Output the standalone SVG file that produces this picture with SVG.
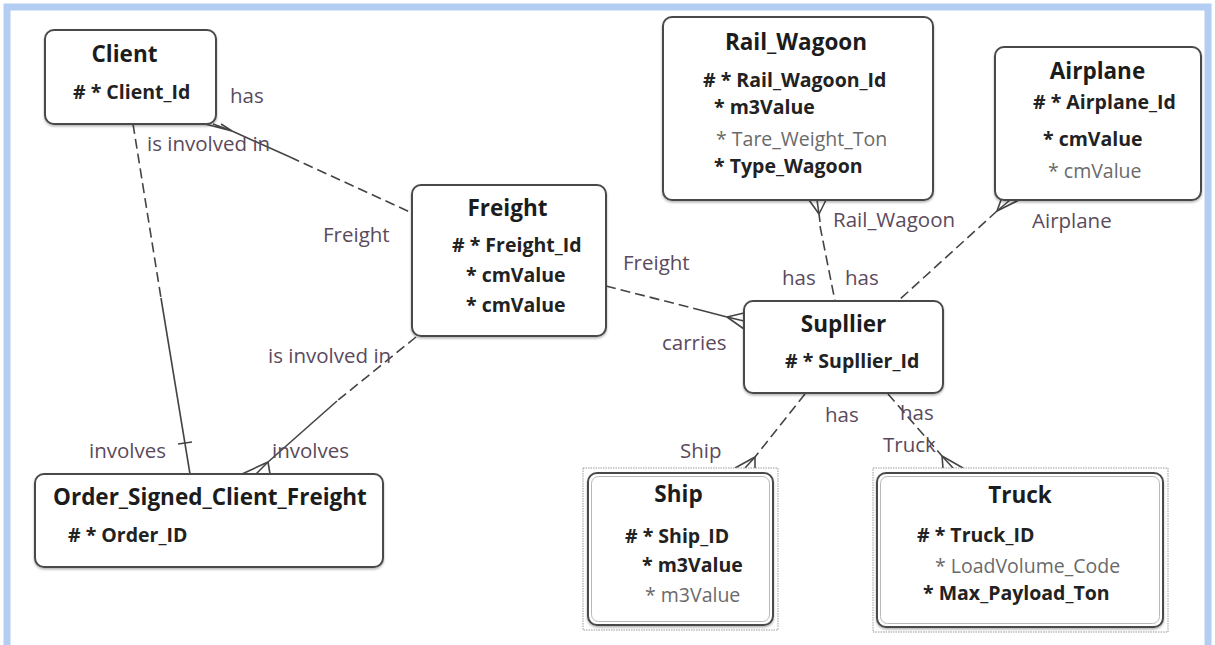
<svg xmlns="http://www.w3.org/2000/svg" width="1215" height="645" viewBox="0 0 1215 645">
<defs>
<style>
.frame{fill:#ffffff;stroke:#b3cef2;stroke-width:7}
.box{fill:#ffffff;stroke:#4a4a4a;stroke-width:2}
.inner{fill:none;stroke:#b8b8b8;stroke-width:1}
.dot{fill:#ffffff;stroke:#9a9a9a;stroke-width:1;stroke-dasharray:1.5 1}
.title{font-family:"Open Sans","Noto Sans",sans-serif;font-size:22.5px;font-weight:bold;fill:#1c1c1c;text-anchor:middle}
.ltitle{font-family:"Open Sans","Noto Sans",sans-serif;font-size:22.5px;font-weight:bold;fill:#1c1c1c}
.att{font-family:"Open Sans","Noto Sans",sans-serif;font-size:19.5px;font-weight:bold;fill:#222222}
.opt{font-family:"Open Sans","Noto Sans",sans-serif;font-size:19.5px;fill:#6a6a6a}
.lbl{font-family:"Open Sans","Noto Sans",sans-serif;font-size:20.5px;fill:#5a4a5c}
.dash{fill:none;stroke:#444444;stroke-width:1.6;stroke-dasharray:10 5}
.solid{fill:none;stroke:#444444;stroke-width:1.6}
</style>
<filter id="sh" x="-5%" y="-5%" width="110%" height="115%">
<feDropShadow dx="0" dy="1.5" stdDeviation="1" flood-color="#000000" flood-opacity="0.3"/>
</filter>
</defs>
<rect x="0" y="0" width="1215" height="645" fill="#ffffff"/>
<rect class="frame" x="7" y="7" width="1201" height="660"/>

<g id="connectors">
<!-- Client - Freight -->
<polyline class="solid" points="205,124 232,131 213,124"/>
<line class="solid" x1="232" y1="131" x2="221" y2="124"/>
<line class="solid" x1="232" y1="131" x2="290" y2="157"/>
<line class="dash" x1="290" y1="157" x2="412" y2="213"/>
<!-- Client - Order -->
<line class="dash" x1="133" y1="124" x2="161" y2="298"/>
<line class="solid" x1="161" y1="298" x2="190" y2="474"/>
<line class="solid" x1="178" y1="444" x2="192" y2="442"/>
<!-- Freight - Order -->
<line class="dash" x1="416" y1="337" x2="337" y2="401"/>
<line class="solid" x1="337" y1="401" x2="268" y2="462"/>
<line class="solid" x1="268" y1="462" x2="242" y2="474"/>
<line class="solid" x1="268" y1="462" x2="256" y2="474"/>
<line class="solid" x1="268" y1="462" x2="270" y2="474"/>
<!-- Freight - Supllier -->
<line class="dash" x1="606" y1="286" x2="700" y2="310"/>
<line class="solid" x1="700" y1="310" x2="727" y2="317"/>
<line class="solid" x1="727" y1="317" x2="744" y2="313"/>
<line class="solid" x1="727" y1="317" x2="744" y2="321"/>
<line class="solid" x1="727" y1="317" x2="744" y2="329"/>
<!-- Rail_Wagoon - Supllier -->
<line class="solid" x1="819" y1="214" x2="809" y2="200"/>
<line class="solid" x1="819" y1="214" x2="817" y2="200"/>
<line class="solid" x1="819" y1="214" x2="826" y2="200"/>
<line class="solid" x1="819" y1="214" x2="820" y2="222"/>
<line class="dash" x1="820" y1="226" x2="835" y2="301"/>
<!-- Airplane - Supllier -->
<line class="solid" x1="997" y1="211" x2="1001" y2="200"/>
<line class="solid" x1="997" y1="211" x2="1010" y2="200"/>
<line class="solid" x1="997" y1="211" x2="1019" y2="200"/>
<line class="dash" x1="997" y1="211" x2="898" y2="301"/>
<!-- Supllier - Ship -->
<line class="dash" x1="805" y1="394" x2="755" y2="457"/>
<line class="solid" x1="755" y1="457" x2="735" y2="468"/>
<line class="solid" x1="755" y1="457" x2="745" y2="468"/>
<line class="solid" x1="755" y1="457" x2="755" y2="468"/>
<!-- Supllier - Truck -->
<line class="dash" x1="888" y1="394" x2="942" y2="456"/>
<line class="solid" x1="942" y1="456" x2="943" y2="468"/>
<line class="solid" x1="942" y1="456" x2="953" y2="468"/>
<line class="solid" x1="942" y1="456" x2="963" y2="468"/>
</g>

<g id="labels">
<text class="lbl" x="230" y="103">has</text>
<text class="lbl" x="147" y="151">is involved in</text>
<text class="lbl" x="323" y="242">Freight</text>
<text class="lbl" x="268" y="363">is involved in</text>
<text class="lbl" x="89" y="458">involves</text>
<text class="lbl" x="272" y="458">involves</text>
<text class="lbl" x="623" y="270">Freight</text>
<text class="lbl" x="662" y="350">carries</text>
<text class="lbl" x="833" y="227">Rail_Wagoon</text>
<text class="lbl" x="782" y="285">has</text>
<text class="lbl" x="845" y="285">has</text>
<text class="lbl" x="1032" y="228">Airplane</text>
<text class="lbl" x="825" y="422">has</text>
<text class="lbl" x="680" y="458">Ship</text>
<text class="lbl" x="900" y="420">has</text>
<text class="lbl" x="883" y="452">Truck</text>
</g>

<g id="client">
<rect class="box" filter="url(#sh)" x="45" y="30" width="171" height="94" rx="9"/>
<text class="title" x="124.5" y="62">Client</text>
<text class="att" x="73" y="99"># * Client_Id</text>
</g>

<g id="freight">
<rect class="box" filter="url(#sh)" x="412" y="185" width="194" height="151" rx="9"/>
<text class="title" x="507.5" y="216">Freight</text>
<text class="att" x="452" y="252"># * Freight_Id</text>
<text class="att" x="466" y="282">* cmValue</text>
<text class="att" x="466" y="312">* cmValue</text>
</g>

<g id="rail_wagoon">
<rect class="box" filter="url(#sh)" x="663" y="17" width="270" height="183" rx="9"/>
<text class="title" x="796" y="50">Rail_Wagoon</text>
<text class="att" x="703" y="87"># * Rail_Wagoon_Id</text>
<text class="att" x="714" y="114">* m3Value</text>
<text class="opt" x="716" y="146">* Tare_Weight_Ton</text>
<text class="att" x="714" y="173">* Type_Wagoon</text>
</g>

<g id="airplane">
<rect class="box" filter="url(#sh)" x="995" y="47" width="206" height="153" rx="9"/>
<text class="title" x="1097.5" y="79">Airplane</text>
<text class="att" x="1033" y="109"># * Airplane_Id</text>
<text class="att" x="1043" y="146">* cmValue</text>
<text class="opt" x="1048" y="178">* cmValue</text>
</g>

<g id="supllier">
<rect class="box" filter="url(#sh)" x="744" y="301" width="199" height="92" rx="9"/>
<text class="title" x="843.5" y="332">Supllier</text>
<text class="att" x="785" y="368"># * Supllier_Id</text>
</g>

<g id="order_signed_client_freight">
<rect class="box" filter="url(#sh)" x="35" y="474" width="348" height="93" rx="9"/>
<text class="ltitle" x="53" y="505">Order_Signed_Client_Freight</text>
<text class="att" x="68" y="542"># * Order_ID</text>
</g>

<g id="ship">
<rect class="dot" x="583" y="468" width="195" height="162"/>
<rect class="box" filter="url(#sh)" x="588" y="473" width="185" height="152" rx="9"/>
<rect class="inner" x="591.5" y="476.5" width="178" height="145" rx="7"/>
<text class="title" x="678.5" y="502">Ship</text>
<text class="att" x="625" y="543"># * Ship_ID</text>
<text class="att" x="642" y="572">* m3Value</text>
<text class="opt" x="645" y="602">* m3Value</text>
</g>

<g id="truck">
<rect class="dot" x="873" y="468" width="295" height="164"/>
<rect class="box" filter="url(#sh)" x="877" y="473" width="286" height="154" rx="9"/>
<rect class="inner" x="880.5" y="476.5" width="279" height="147" rx="7"/>
<text class="title" x="1020" y="503">Truck</text>
<text class="att" x="917" y="542"># * Truck_ID</text>
<text class="opt" x="935" y="573">* LoadVolume_Code</text>
<text class="att" x="923" y="600">* Max_Payload_Ton</text>
</g>
</svg>
